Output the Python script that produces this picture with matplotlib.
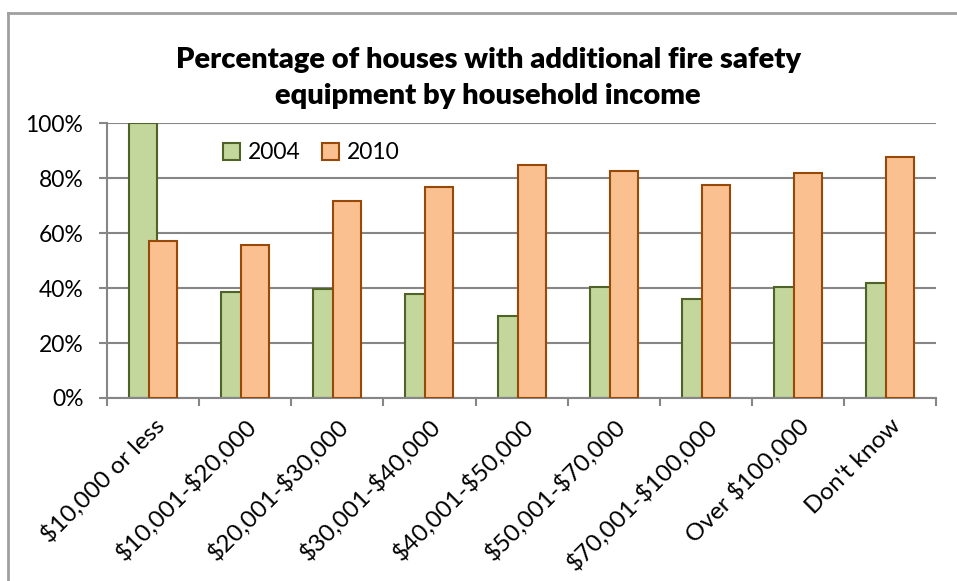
import matplotlib
matplotlib.use("Agg")
import matplotlib.pyplot as plt
import numpy as np
from matplotlib.lines import Line2D
from matplotlib.ticker import FuncFormatter, FixedLocator

plt.rcParams['font.family'] = ['Lato', 'DejaVu Sans']

# income bands and the share of houses (in %) for each survey year
categories = ["$10,000 or less", "$10,001-$20,000", "$20,001-$30,000",
              "$30,001-$40,000", "$40,001-$50,000", "$50,001-$70,000",
              "$70,001-$100,000", "Over $100,000", "Don't know"]
pct_2004 = [100, 38.4, 39.7, 37.8, 29.7, 40.5, 36.1, 40.5, 41.9]
pct_2010 = [57.1, 55.6, 71.7, 76.7, 84.7, 82.5, 77.5, 82.0, 87.6]
series_names = ["2004", "2010"]

fig = plt.figure(figsize=(9.57, 5.81), dpi=100)
ax = fig.add_axes([0.1118, 0.315, 0.8664, 0.473])

x = np.arange(len(categories))
width = 0.304
shift = 0.109
ax.bar(x - shift, pct_2004, width, color="#C3D69B", edgecolor="#4F6228",
       linewidth=1.5, label=series_names[0], zorder=2)
ax.bar(x + shift, pct_2010, width, color="#FAC090", edgecolor="#984807",
       linewidth=1.5, label=series_names[1], zorder=3)

ax.set_xlim(-0.5, len(categories) - 0.5)
ax.set_ylim(0, 100)
ax.set_yticks(np.arange(0, 101, 20))
ax.yaxis.set_major_formatter(FuncFormatter(lambda v, _: f"{v:.0f}%"))
ax.yaxis.grid(True, color="#868686", linewidth=1.5, zorder=0)
ax.set_axisbelow(True)

# boundary ticks between groups, labels at group centres
ax.xaxis.set_major_locator(FixedLocator(np.arange(-0.5, len(categories), 1.0)))
ax.xaxis.set_major_formatter(FuncFormatter(lambda v, _: ""))
ax.set_xticks(x, minor=True)
ax.set_xticklabels([c.replace("$", r"\$") for c in categories], minor=True,
                   rotation=45, ha="right", va="top", rotation_mode="anchor",
                   fontsize=17.5)
ax.tick_params(axis="x", which="minor", length=0, pad=12)
ax.tick_params(axis="x", which="major", length=6, width=1.5, color="#868686")
ax.tick_params(axis="y", length=6, width=1.5, color="#868686", labelsize=16.5, pad=11)

for side in ["top", "right"]:
    ax.spines[side].set_visible(False)
for side in ["left", "bottom"]:
    ax.spines[side].set_color("#868686")
    ax.spines[side].set_linewidth(1.5)

ax.legend(loc="upper left", bbox_to_anchor=(0.115, 1.005), ncol=2, frameon=False,
          fontsize=16.5, handlelength=0.75, handleheight=0.75, handletextpad=0.35,
          columnspacing=0.9)

fig.text(0.51, 0.866, "Percentage of houses with additional fire safety\nequipment by household income",
         ha="center", va="center", fontsize=21, fontweight="heavy", linespacing=1.5)

# chart frame (left and top edges)
fig.add_artist(Line2D([8 / 957, 8 / 957], [0, 1 - 13 / 581], color="#A0A0A0", linewidth=2))
fig.add_artist(Line2D([8 / 957, 1], [1 - 13 / 581, 1 - 13 / 581], color="#A0A0A0", linewidth=2))

fig.savefig("out.png", dpi=100)
